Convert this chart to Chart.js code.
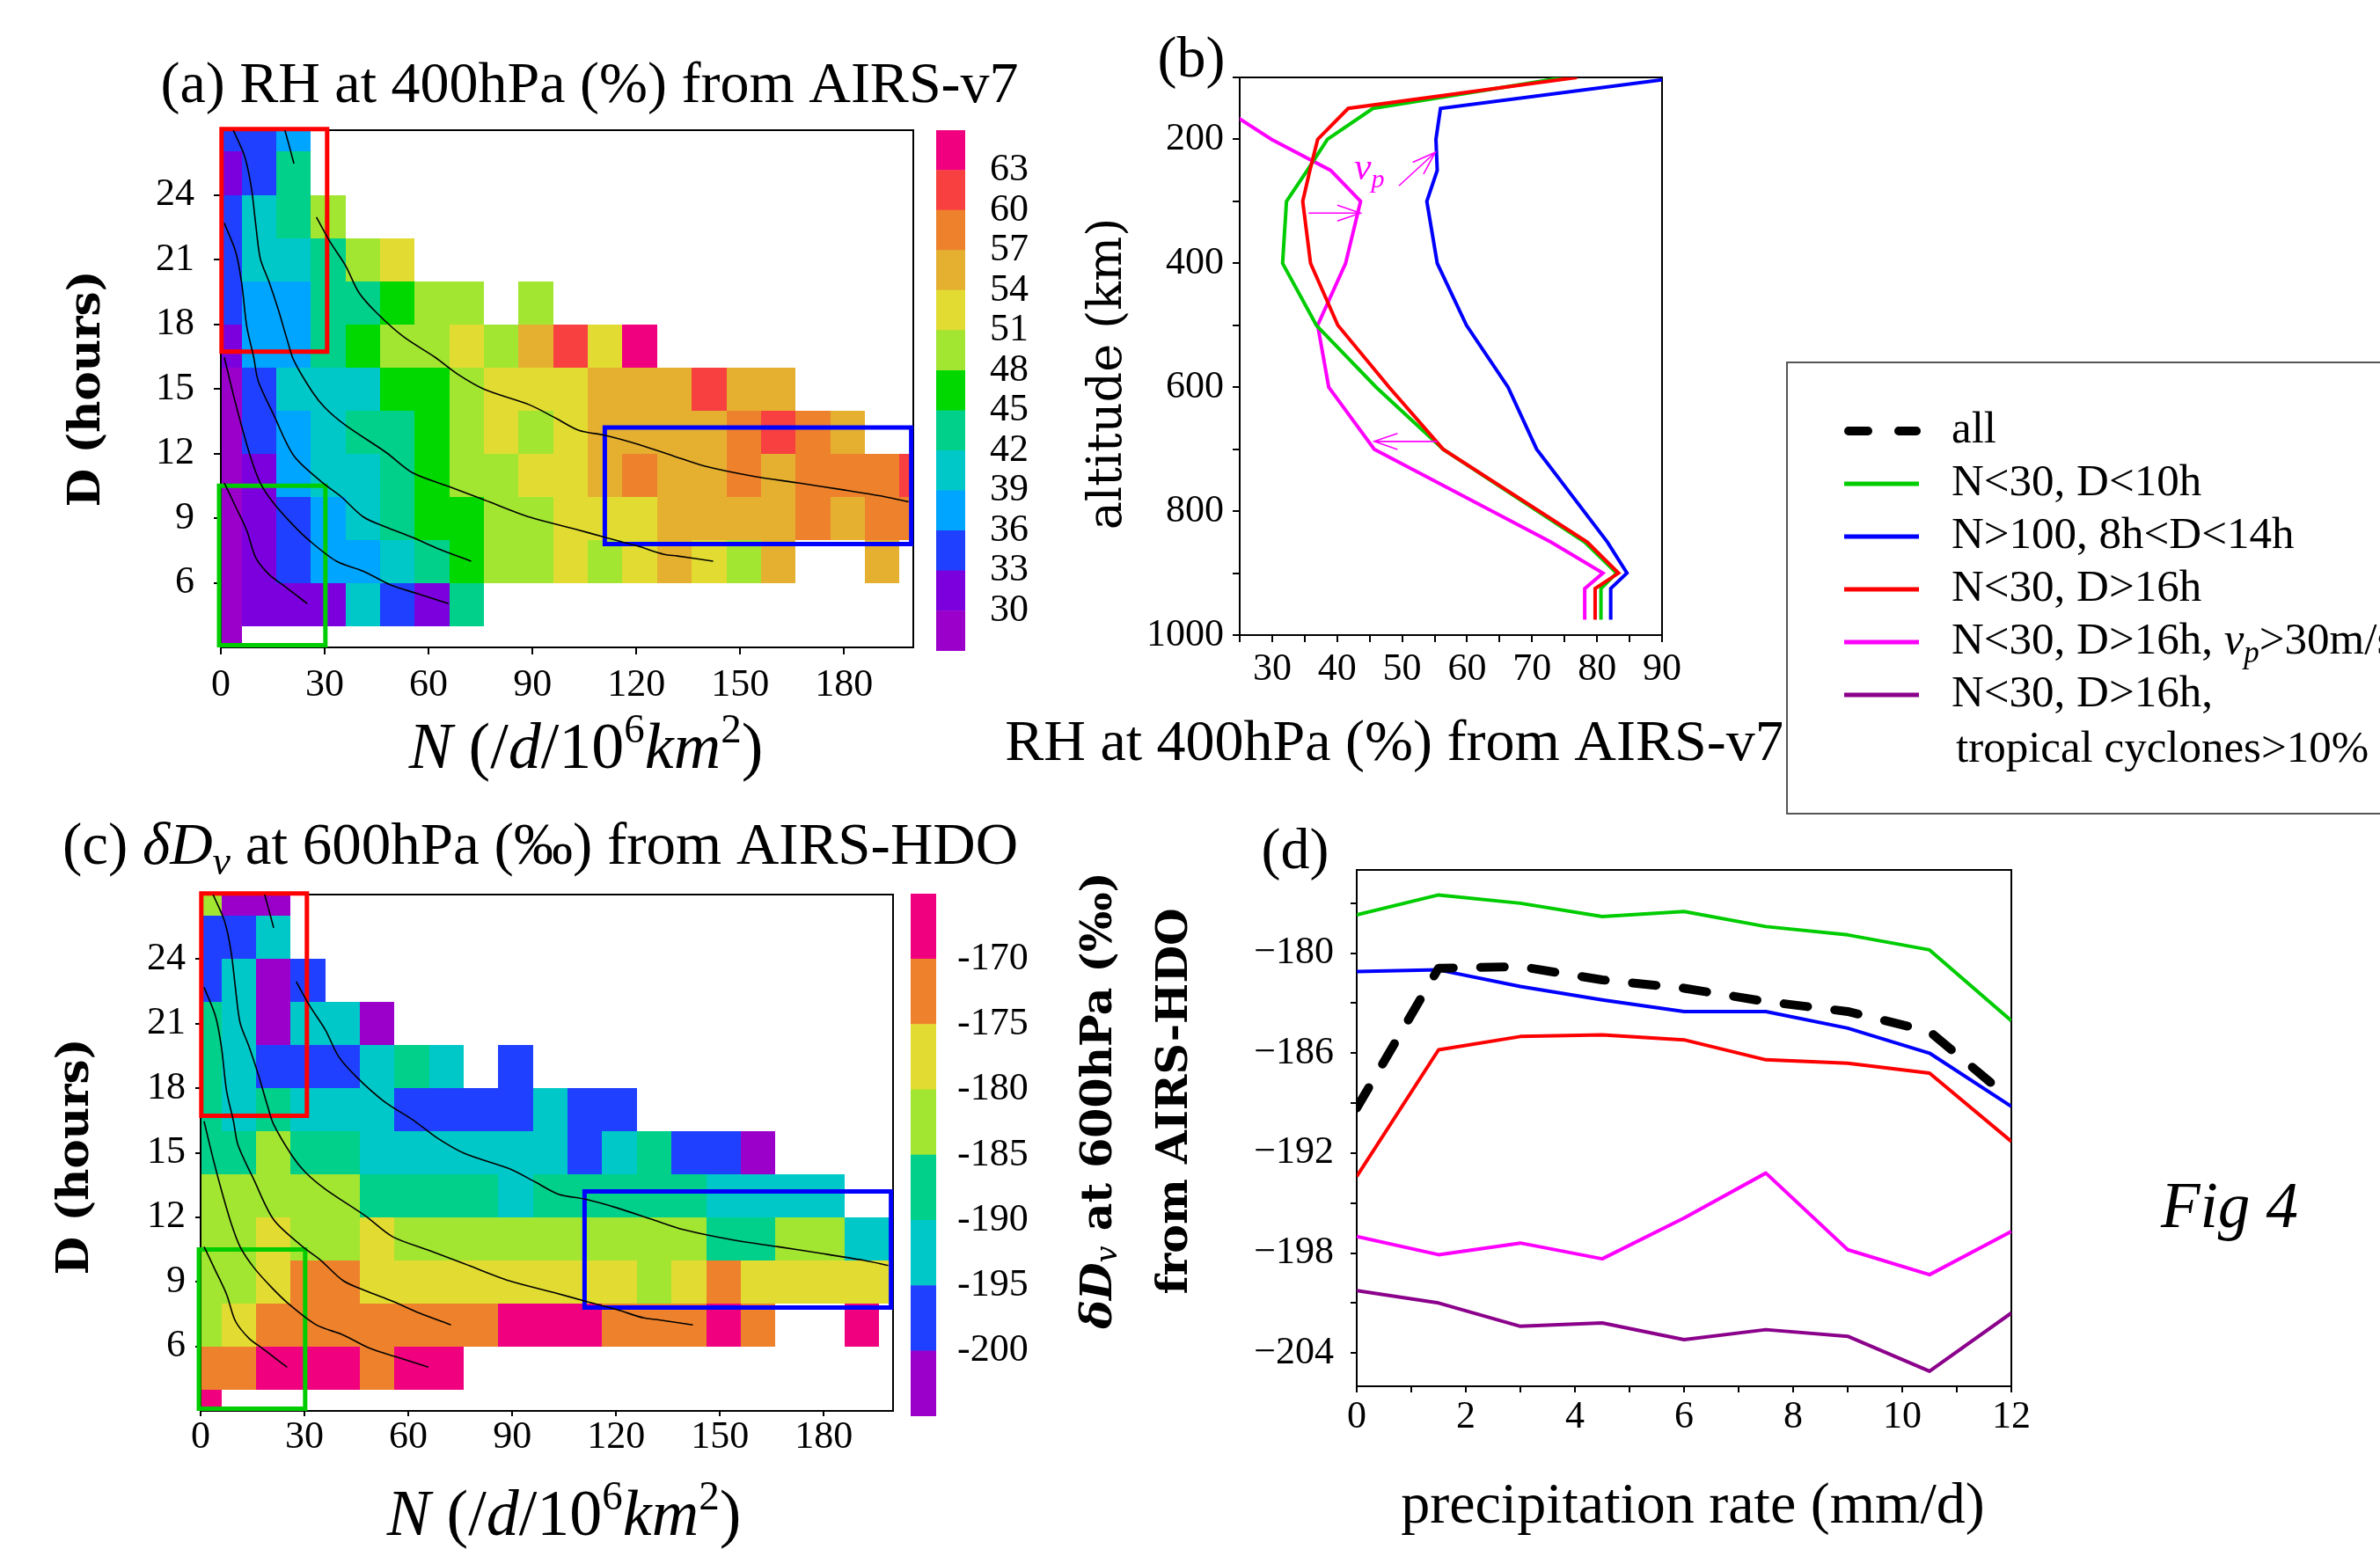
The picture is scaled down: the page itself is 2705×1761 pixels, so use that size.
<!DOCTYPE html>
<html><head><meta charset="utf-8">
<script src="https://cdn.jsdelivr.net/npm/chart.js@4.4.1/dist/chart.umd.min.js"></script>
<style>
html,body{margin:0;padding:0;background:#fff;}
body{width:2705px;height:1761px;position:relative;overflow:hidden;}
canvas{position:absolute;}
</style></head><body>
<script>
// ======================= DATA =======================
const _ = null;
// heat-map bins (N in /d/10^6km^2, D in hours)
const N_EDGES = [0,6,16,26,36,46,56,66,76,86,96,106,116,126,136,146,156,166,176,186,196,200];
const D_EDGES = [3,4,6,8,10,12,14,16,18,20,22,24,26,27];
// colour classes
const RH_BOUNDS = [27,30,33,36,39,42,45,48,51,54,57,60,63,66];
const RH_COLORS = ['#9B00CB','#7C00DE','#2040FF','#00A5FF','#00C8C8','#00D08A','#00D800','#A2E632','#E2DC32','#E5B030','#EE822C','#F84040','#F0007F'];
const DD_BOUNDS = [-205,-200,-195,-190,-185,-180,-175,-170,-165];
const DD_COLORS = ['#9B00CB','#2040FF','#00C8C8','#00D08A','#A2E632','#E2DC32','#EE822C','#F0007F'];
// (a) RH at 400hPa, rows from D=3 (bottom) to D=27 (top), 21 N-columns
const RH_GRID = [
 [28.5,_,_,_,_,_,_,_,_,_,_,_,_,_,_,_,_,_,_,_,_],
 [28.5,31.5,31.5,31.5,40.5,34.5,31.5,43.5,_,_,_,_,_,_,_,_,_,_,_,_,_],
 [28.5,31.5,34.5,37.5,37.5,40.5,43.5,46.5,49.5,49.5,52.5,49.5,52.5,55.5,52.5,49.5,55.5,_,_,55.5,_],
 [28.5,31.5,34.5,37.5,40.5,43.5,46.5,46.5,49.5,49.5,52.5,52.5,52.5,55.5,55.5,55.5,55.5,58.5,55.5,58.5,58.5],
 [28.5,31.5,37.5,40.5,40.5,43.5,46.5,49.5,49.5,52.5,52.5,55.5,58.5,55.5,55.5,58.5,55.5,58.5,58.5,58.5,61.5],
 [28.5,34.5,37.5,40.5,43.5,43.5,46.5,49.5,52.5,49.5,52.5,55.5,55.5,55.5,55.5,58.5,61.5,58.5,55.5,_,_],
 [28.5,34.5,40.5,40.5,40.5,46.5,46.5,49.5,52.5,52.5,52.5,55.5,55.5,55.5,61.5,55.5,55.5,_,_,_,_],
 [31.5,37.5,37.5,43.5,46.5,49.5,49.5,52.5,49.5,55.5,61.5,52.5,64.5,_,_,_,_,_,_,_,_],
 [34.5,37.5,37.5,43.5,43.5,46.5,49.5,49.5,_,49.5,_,_,_,_,_,_,_,_,_,_,_],
 [34.5,40.5,40.5,43.5,49.5,52.5,_,_,_,_,_,_,_,_,_,_,_,_,_,_,_],
 [34.5,40.5,43.5,49.5,_,_,_,_,_,_,_,_,_,_,_,_,_,_,_,_,_],
 [31.5,34.5,43.5,_,_,_,_,_,_,_,_,_,_,_,_,_,_,_,_,_,_],
 [34.5,34.5,37.5,_,_,_,_,_,_,_,_,_,_,_,_,_,_,_,_,_,_]
];
// (c) deltaD at 600hPa, same bins
const DD_GRID = [
 [-167.5,_,_,_,_,_,_,_,_,_,_,_,_,_,_,_,_,_,_,_,_],
 [-172.5,-172.5,-167.5,-167.5,-167.5,-172.5,-167.5,-167.5,_,_,_,_,_,_,_,_,_,_,_,_,_],
 [-182.5,-177.5,-172.5,-172.5,-172.5,-172.5,-172.5,-172.5,-172.5,-167.5,-167.5,-167.5,-172.5,-172.5,-172.5,-167.5,-172.5,_,_,-167.5,_],
 [-182.5,-182.5,-177.5,-172.5,-172.5,-177.5,-177.5,-177.5,-177.5,-177.5,-177.5,-177.5,-177.5,-182.5,-177.5,-172.5,-177.5,-177.5,-177.5,-177.5,-177.5],
 [-182.5,-182.5,-177.5,-182.5,-182.5,-177.5,-182.5,-182.5,-182.5,-182.5,-182.5,-182.5,-182.5,-182.5,-182.5,-187.5,-187.5,-182.5,-182.5,-192.5,-192.5],
 [-182.5,-182.5,-182.5,-182.5,-182.5,-187.5,-187.5,-187.5,-187.5,-192.5,-187.5,-187.5,-187.5,-187.5,-187.5,-192.5,-192.5,-192.5,-192.5,_,_],
 [-187.5,-187.5,-182.5,-187.5,-187.5,-192.5,-192.5,-192.5,-192.5,-192.5,-192.5,-197.5,-192.5,-187.5,-197.5,-197.5,-202.5,_,_,_,_],
 [-187.5,-192.5,-187.5,-192.5,-192.5,-192.5,-197.5,-197.5,-197.5,-197.5,-192.5,-197.5,-197.5,_,_,_,_,_,_,_,_],
 [-187.5,-192.5,-197.5,-197.5,-197.5,-192.5,-187.5,-192.5,_,-197.5,_,_,_,_,_,_,_,_,_,_,_],
 [-187.5,-192.5,-202.5,-192.5,-192.5,-202.5,_,_,_,_,_,_,_,_,_,_,_,_,_,_,_],
 [-197.5,-192.5,-202.5,-197.5,_,_,_,_,_,_,_,_,_,_,_,_,_,_,_,_,_],
 [-197.5,-197.5,-192.5,_,_,_,_,_,_,_,_,_,_,_,_,_,_,_,_,_,_],
 [-182.5,-202.5,-202.5,_,_,_,_,_,_,_,_,_,_,_,_,_,_,_,_,_,_]
];
// black iso-curves overlaid on both heat maps: [N, D] pairs
const CONTOURS = [
 [[18.5,27.0],[19.8,26.24],[21.1,25.45]],
 [[3.6,27.0],[6.9,25.77],[8.8,24.35],[10.1,22.6],[11.4,21.04],[14.0,19.93],[16.6,18.67],[19.2,17.25],[21.1,16.31],[26.3,14.89],[30.2,14.1],[36.0,13.31],[47.7,12.05],[55.4,11.1],[65.8,10.47],[76.2,9.84],[89.1,9.05],[102.1,8.5],[111.1,8.1],[120.2,7.71],[128.0,7.32],[131.9,7.24],[142.2,7.0]],
 [[27.6,22.96],[31.5,21.83],[36.0,20.72],[39.9,19.46],[45.1,18.51],[52.8,17.41],[61.9,16.46],[68.4,15.68],[76.2,14.97],[89.1,14.26],[96.9,13.62],[103.4,13.07],[111.1,12.84],[120.2,12.44],[130.6,11.89],[139.6,11.42],[153.9,10.94],[166.8,10.63],[179.8,10.31],[191.5,10.0],[198.6,9.76]],
 [[1.0,22.69],[4.3,21.35],[6.0,19.93],[7.5,17.88],[9.5,16.46],[10.8,15.36],[15.3,13.78],[21.1,11.89],[29.5,10.63],[34.7,10.0],[41.2,9.05],[47.7,8.58],[55.4,8.1],[63.2,7.55],[72.3,7.0]],
 [[1.0,16.46],[3.6,14.73],[6.2,13.15],[8.8,11.73],[11.4,10.63],[15.3,9.68],[20.5,8.74],[25.6,7.95],[33.4,7.0],[41.2,6.53],[49.0,5.9],[56.7,5.5],[65.8,5.03]],
 [[1.0,10.63],[4.3,9.52],[7.5,8.42],[10.1,7.16],[14.0,6.37],[17.9,5.9],[21.8,5.42],[25.0,5.03]]
];
const BOX_RED   = {n:[0.2,30.7],   d:[16.72,27.05]};
const BOX_GREEN = {n:[-0.5,30.2],  d:[3.1,10.5]};
const BOX_BLUE  = {n:[110.9,199.4],d:[7.8,13.2]};
// (b) vertical profiles of RH (%) vs pressure level
const P_LEVELS   = [100,150,200,250,300,400,500,600,700,850,900,925,975];
const RHB_GREEN  = [75.0,45.5,38.5,35.4,32.2,31.6,36.8,46.0,56.3,78.1,83.0,80.6,80.6];
const RHB_RED    = [76.9,41.7,37.0,35.8,34.7,35.9,40.1,48.0,56.3,78.5,83.3,79.7,79.7];
const RHB_BLUE   = [93.0,55.9,55.2,55.4,53.8,55.4,59.9,66.3,70.7,81.6,84.6,82.1,82.1];
const RHB_MAGENTA= [_,22.5,29.9,39.0,43.6,41.3,37.0,38.7,45.7,72.9,80.9,78.1,78.1];
// (d) deltaD at 600hPa vs precipitation rate
const PRECIP     = [0,1.5,3,4.5,6,7.5,9,10.5,12];
const DDD_ALL    = [-189.3,-180.9,-180.8,-181.6,-182.1,-182.9,-183.5,-184.7,-188.8];
const DDD_GREEN  = [-177.7,-176.5,-177.0,-177.8,-177.5,-178.4,-178.9,-179.8,-184.05];
const DDD_BLUE   = [-181.1,-181.0,-182.0,-182.8,-183.5,-183.5,-184.5,-186.0,-189.2];
const DDD_RED    = [-193.4,-185.8,-185.0,-184.9,-185.2,-186.4,-186.6,-187.2,-191.3];
const DDD_MAGENTA= [-197.0,-198.1,-197.4,-198.35,-195.9,-193.2,-197.8,-199.3,-196.7];
const DDD_PURPLE = [-200.25,-201.0,-202.4,-202.2,-203.2,-202.6,-203.0,-205.1,-201.6];
const LEGEND_LABELS = ['all','N<30, D<10h','N>100, 8h<D<14h','N<30, D>16h','N<30, D>16h, ','N<30, D>16h,'];

// ======================= STYLE / HELPERS =======================
const SERIF = "'Liberation Serif','Times New Roman',serif";
const DV = "'DejaVu Serif',serif";
function F(size, style, fam){ return (style||'normal') + ' ' + size + 'px ' + (fam||SERIF); }
const C_GREEN='#00CC00', C_BLUE='#0000FF', C_RED='#FF0000', C_MAG='#FF00FF', C_PUR='#8B008B';
const YW = 150, XH = 100, CBW = 120;   // reserved axis box sizes

function drawRich(ctx, it){
  ctx.save();
  ctx.translate(it.x, it.y);
  if (it.rot) ctx.rotate(it.rot*Math.PI/180);
  ctx.textBaseline = it.base || 'alphabetic';
  ctx.textAlign = 'left';
  ctx.fillStyle = it.color || '#000';
  const w = it.parts.map(p => { ctx.font = p[1]; return ctx.measureText(p[0]).width; });
  const tot = w.reduce((a,b)=>a+b,0);
  let x = it.align==='left' ? 0 : (it.align==='right' ? -tot : -tot/2);
  it.parts.forEach((p,i)=>{ ctx.font = p[1]; ctx.fillText(p[0], x, p[2]||0); x += w[i]; });
  ctx.restore();
}
function textPlugin(box, items){
  return {id:'texts', afterDraw(ch){ const ctx=ch.ctx; ctx.save(); ctx.translate(-box[0],-box[1]); items.forEach(it=>drawRich(ctx,it)); ctx.restore(); }};
}
const framePlugin = {id:'frame', beforeDatasetsDraw(ch){
  const a=ch.chartArea, ctx=ch.ctx; ctx.save(); ctx.strokeStyle='#000'; ctx.lineWidth=2;
  ctx.strokeRect(a.left, a.top, a.right-a.left, a.bottom-a.top); ctx.restore(); }};
function heatPlugin(grid, bounds, colors){
  return {id:'heat', beforeDatasetsDraw(ch){
    const xs=ch.scales.x, ys=ch.scales.y, ctx=ch.ctx; ctx.save();
    grid.forEach((row,r)=>row.forEach((v,c)=>{
      if (v===null) return;
      let k=0; while(k<colors.length-1 && v>=bounds[k+1]) k++;
      const x0=Math.round(xs.getPixelForValue(N_EDGES[c])), x1=Math.round(xs.getPixelForValue(N_EDGES[c+1]));
      const y0=Math.round(ys.getPixelForValue(D_EDGES[r])), y1=Math.round(ys.getPixelForValue(D_EDGES[r+1]));
      ctx.fillStyle=colors[k]; ctx.fillRect(x0,y1,x1-x0,y0-y1);
    }));
    ctx.restore();
  }};
}
function axis(o){
  const size = o.size;
  return {
    type: o.type||'linear', position:o.pos, min:o.min, max:o.max, reverse:!!o.reverse, display: o.display!==false,
    grid:{display: o.grid!==false, drawOnChartArea:false, drawTicks:true, tickLength:o.tl||8, color:'#000', lineWidth:2},
    border:{display:false},
    ticks:{color:'#000', font:{family:SERIF, size:o.fs||44}, autoSkip:false, maxRotation:0, minRotation:0,
      includeBounds:false, stepSize:o.step, padding:o.pad, callback:o.cb || (v=>v)},
    afterFit: s => { if (s.isHorizontal()) s.height=size; else s.width=size; }
  };
}
function mk(box, area, sizes, config, plugins){
  const c=document.createElement('canvas');
  c.width=box[2]; c.height=box[3];
  c.style.left=box[0]+'px'; c.style.top=box[1]+'px'; c.style.width=box[2]+'px'; c.style.height=box[3]+'px';
  document.body.appendChild(c);
  const o=config.options||{};
  o.responsive=false; o.maintainAspectRatio=false; o.animation=false; o.devicePixelRatio=1;
  o.layout={padding:{
    left:area[0]-box[0]-(sizes.left||0), top:area[1]-box[1],
    right:box[0]+box[2]-area[2]-(sizes.right||0), bottom:box[1]+box[3]-area[3]-(sizes.bottom||0)}};
  o.plugins=Object.assign({legend:{display:false}, tooltip:{enabled:false}}, o.plugins||{});
  o.events=[];
  config.options=o; config.plugins=plugins||[];
  return new Chart(c.getContext('2d'), config);
}
function heatDatasets(){
  const ds = CONTOURS.map(pts=>({data:pts.map(p=>({x:p[0],y:p[1]})), borderColor:'#000', borderWidth:1.6, pointRadius:0, tension:0.3, fill:false}));
  [[BOX_RED,'#FF0000'],[BOX_GREEN,'#00CC00'],[BOX_BLUE,'#0000FF']].forEach(([b,col])=>{
    ds.push({data:[{x:b.n[0],y:b.d[0]},{x:b.n[1],y:b.d[0]},{x:b.n[1],y:b.d[1]},{x:b.n[0],y:b.d[1]},{x:b.n[0],y:b.d[0]}],
      borderColor:col, borderWidth:5, pointRadius:0, tension:0, clip:false, fill:false, borderJoinStyle:'miter', borderCapStyle:'square'});
  });
  return ds;
}
function nTitle(x,y){
  const s=74;
  return {x:x, y:y, parts:[['N',F(s,'italic')],[' (/',F(s)],['d',F(s,'italic')],['/10',F(s)],['6',F(47),-29],['km',F(s,'italic')],['2',F(47),-29],[')',F(s)]]};
}
function colorbar(box, area, bounds, colors, step, cb, pad){
  const ds = colors.map((col,i)=>({data:[[bounds[i],bounds[i+1]]], backgroundColor:col, borderWidth:0, grouped:false, barPercentage:1, categoryPercentage:1}));
  const y = axis({pos:'right', min:bounds[0], max:bounds[bounds.length-1], step:step, pad:pad, cb:cb, grid:false, size:CBW});
  return mk(box, area, {right:CBW}, {type:'bar', data:{labels:['cb'], datasets:ds},
    options:{scales:{x:{type:'category', display:false, offset:true}, y:y}}});
}

// ======================= (a) heat map =======================
{
  const box=[0,0,1200,905];
  mk(box,[251,148,1038,736],{left:YW,bottom:XH},{type:'line', data:{datasets:heatDatasets()},
    options:{scales:{
      x:axis({pos:'bottom',min:0,max:200,step:30,tl:8,pad:9,size:XH}),
      y:axis({pos:'left',min:3,max:27,step:3,tl:8,pad:22,size:YW,cb:v=>(v>=6&&v<=24)?v:null})
    }}},
    [heatPlugin(RH_GRID,RH_BOUNDS,RH_COLORS), framePlugin, textPlugin(box,[
      {x:670,y:116,parts:[['(a) RH at 400hPa (%) from AIRS-v7',F(66)]]},
      {x:100,y:442,rot:-90,base:'middle',parts:[['D (hours)',F(50,'bold',DV)]]},
      nTitle(666,873)
    ])]);
  colorbar([1050,60,200,760],[1064,148,1097,740],RH_BOUNDS,RH_COLORS,3,v=>(v>=30&&v<=63)?v:null,20);
}
// ======================= (c) heat map =======================
{
  const box=[0,905,1200,856];
  mk(box,[228,1017,1015,1604],{left:YW,bottom:XH},{type:'line', data:{datasets:heatDatasets()},
    options:{scales:{
      x:axis({pos:'bottom',min:0,max:200,step:30,tl:6,pad:-2,size:XH}),
      y:axis({pos:'left',min:3,max:27,step:3,tl:6,pad:11,size:YW,cb:v=>(v>=6&&v<=24)?v:null})
    }}},
    [heatPlugin(DD_GRID,DD_BOUNDS,DD_COLORS), framePlugin, textPlugin(box,[
      {x:614,y:982,parts:[['(c) ',F(67)],['\u03B4D',F(67,'italic')],['v',F(46,'italic'),12],[' at 600hPa (\u2030) from AIRS-HDO',F(67)]]},
      {x:87,y:1315,rot:-90,base:'middle',parts:[['D (hours)',F(50,'bold',DV)]]},
      nTitle(641,1745)
    ])]);
  colorbar([1020,940,210,750],[1035,1016,1064,1610],DD_BOUNDS,DD_COLORS,5,v=>(v<=-170&&v>=-200)?String(v):null,16);
}
// ======================= (b) profiles =======================
{
  const box=[1120,0,905,905];
  const prof=(arr,col)=>({data:P_LEVELS.map((p,i)=>({x:arr[i],y:p})).filter(q=>q.x!==null),
    borderColor:col, borderWidth:4, pointRadius:0, tension:0, fill:false, borderJoinStyle:'miter'});
  const ARROWS=[{from:[49.5,275],to:[55.1,221]},{from:[35.6,319],to:[43.6,319]},{from:[55.4,687.5],to:[45.7,687.5]}];
  const annot={id:'annot', afterDatasetsDraw(ch){
    const xs=ch.scales.x, ys=ch.scales.y, ctx=ch.ctx; ctx.save();
    ctx.strokeStyle=C_MAG; ctx.lineWidth=1.6;
    ARROWS.forEach(a=>{
      const x0=xs.getPixelForValue(a.from[0]), y0=ys.getPixelForValue(a.from[1]);
      const x1=xs.getPixelForValue(a.to[0]), y1=ys.getPixelForValue(a.to[1]);
      const ang=Math.atan2(y1-y0,x1-x0), L=28, Wd=0.33;
      ctx.beginPath(); ctx.moveTo(x0,y0); ctx.lineTo(x1,y1);
      ctx.moveTo(x1-L*Math.cos(ang-Wd), y1-L*Math.sin(ang-Wd)); ctx.lineTo(x1,y1);
      ctx.lineTo(x1-L*Math.cos(ang+Wd), y1-L*Math.sin(ang+Wd)); ctx.stroke();
    });
    drawRich(ctx,{x:xs.getPixelForValue(42.6), y:ys.getPixelForValue(265), align:'left', color:C_MAG,
      parts:[['v',F(44,'italic')],['p',F(30,'italic'),9]]});
    ctx.restore(); }};
  mk(box,[1409,88,1889,722],{left:YW,bottom:XH},{type:'line', data:{datasets:[prof(RHB_RED,C_RED),prof(RHB_GREEN,C_GREEN),prof(RHB_BLUE,C_BLUE),prof(RHB_MAGENTA,C_MAG)]},
    options:{scales:{
      x:axis({pos:'bottom',min:25,max:90,step:5,tl:8,pad:5,size:XH,cb:v=>(v%10===0&&v>=30)?v:''}),
      y:axis({pos:'left',min:100,max:1000,step:100,reverse:true,tl:8,pad:10,size:YW,cb:v=>(v%200===0)?v:''})
    }}},
    [framePlugin, annot, textPlugin(box,[
      {x:1354,y:87,parts:[['(b)',F(66)]]},
      {x:1260,y:425,rot:-90,base:'middle',parts:[['altitude (km)',F(54,'normal',DV)]]},
      {x:1585,y:864,parts:[['RH at 400hPa (%) from AIRS-v7',F(66)]]}
    ])]);
}
// ======================= (d) deltaD vs precipitation + legend =======================
{
  const box=[1180,380,1525,1381];
  const ln=(arr,col,w,dash)=>({data:PRECIP.map((p,i)=>({x:p,y:arr[i]})), borderColor:col, borderWidth:w, pointRadius:0, tension:0, fill:false,
    borderDash:dash||[], borderCapStyle:dash?'round':'butt', borderJoinStyle:'round'});
  const SERIES=[[DDD_ALL,'#000'],[DDD_GREEN,C_GREEN],[DDD_BLUE,C_BLUE],[DDD_RED,C_RED],[DDD_MAGENTA,C_MAG],[DDD_PURPLE,C_PUR]];
  const legend={id:'legendBox', afterDraw(ch){
    const ctx=ch.ctx; ctx.save(); ctx.translate(-box[0],-box[1]);
    ctx.strokeStyle='#555'; ctx.lineWidth=2; ctx.strokeRect(2031,412,720,513);
    SERIES.forEach((s,i)=>{
      const y=490+60*i;
      ctx.strokeStyle=s[1];
      if(i===0){ ctx.lineWidth=10; ctx.lineCap='round'; ctx.beginPath(); ctx.moveTo(2101,y); ctx.lineTo(2123,y); ctx.moveTo(2158,y); ctx.lineTo(2178,y); ctx.stroke(); }
      else { ctx.lineWidth=5; ctx.lineCap='butt'; ctx.beginPath(); ctx.moveTo(2096,y); ctx.lineTo(2181,y); ctx.stroke(); }
      let parts=[[LEGEND_LABELS[i],F(51)]];
      if(i===4) parts=[[LEGEND_LABELS[i],F(51)],['v',F(51,'italic')],['p',F(35,'italic'),10],['>30m/s',F(51)]];
      drawRich(ctx,{x:2218,y:y+13,align:'left',parts:parts});
      if(i===5) drawRich(ctx,{x:2223,y:y+76,align:'left',parts:[['tropical cyclones>10%',F(51)]]});
    });
    ctx.restore(); }};
  mk(box,[1542,989,2286,1576],{left:YW,bottom:XH},{type:'line', data:{datasets:SERIES.map((s,i)=>i===0?ln(s[0],s[1],10,[27,31]):ln(s[0],s[1],4))},
    options:{scales:{
      x:axis({pos:'bottom',min:0,max:12,step:1,tl:7,pad:2,size:XH,cb:v=>(v%2===0)?v:''}),
      y:axis({pos:'left',min:-206,max:-175,step:3,tl:7,pad:19,size:YW,cb:v=>(v%6===0)?('\u2212'+Math.abs(v)):''})
    }}},
    [framePlugin, legend, textPlugin(box,[
      {x:1472,y:987,parts:[['(d)',F(66)]]},
      {x:1250,y:1251,rot:-90,base:'middle',parts:[['\u03B4D',F(49,'italic bold',DV)],['v',F(34,'italic',DV),10],[' at 600hPa (\u2030)',F(49,'bold',DV)]]},
      {x:1336,y:1252,rot:-90,base:'middle',parts:[['from AIRS-HDO',F(49,'bold',DV)]]},
      {x:1924,y:1731,parts:[['precipitation rate (mm/d)',F(66)]]},
      {x:2534,y:1395,parts:[['Fig 4',F(73,'italic')]]}
    ])]);
}
</script>
</body></html>
